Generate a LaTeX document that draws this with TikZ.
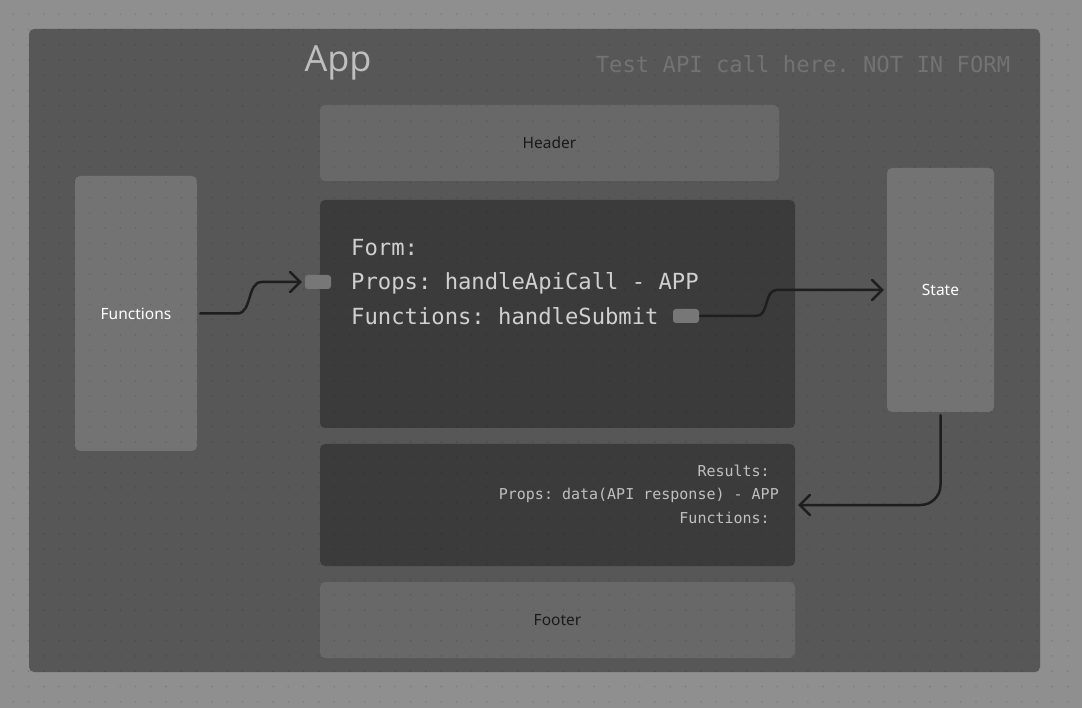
\documentclass[tikz,border=0pt]{standalone}
\usepackage{fontspec}
\setmainfont{Noto Sans}
\setsansfont{Open Sans}
\setmonofont{DejaVu Sans Mono}
\usetikzlibrary{arrows.meta}

\definecolor{canvasgray}{HTML}{8F8F8F}
\definecolor{framegray}{HTML}{575757}
\definecolor{panelgray}{HTML}{686868}
\definecolor{sidegray}{HTML}{737373}
\definecolor{darkpanel}{HTML}{3B3B3B}
\definecolor{portgray}{HTML}{777777}
\definecolor{arrowink}{HTML}{1E1E1E}
\definecolor{titlegray}{HTML}{BFBFBF}
\definecolor{notegray}{HTML}{737373}
\definecolor{codegray}{HTML}{D0D0D0}
\definecolor{resultgray}{HTML}{C0C0C0}
\definecolor{labeldark}{HTML}{1A1A1A}

\tikzset{
  panel/.style={fill=panelgray, rounded corners=5pt, inner sep=0pt, text=labeldark,
    font=\fontsize{15.5}{18}\selectfont},
  sidebox/.style={fill=sidegray, rounded corners=5pt, inner sep=0pt, text=white,
    font=\fontsize{15.5}{18}\selectfont},
  codebox/.style={fill=darkpanel, rounded corners=5pt, inner sep=0pt},
  port/.style={fill=portgray, rounded corners=3pt, inner sep=0pt,
    minimum width=26pt, minimum height=14pt},
  flow/.style={draw=arrowink, line width=2.5pt, line cap=round,
    -{Straight Barb[length=10pt,width=20pt,line cap=round]}},
}

\begin{document}
\begin{tikzpicture}[x=1pt,y=-1pt]
\useasboundingbox (0,0) rectangle (1082,708);
\fill[canvasgray] (0,0) rectangle (1082,708);

% app frame
\node[fill=framegray, rounded corners=5pt, minimum width=1011pt, minimum height=643pt, inner sep=0pt] (app) at (534.5,350.5) {};
\node[text=titlegray, font=\sffamily\fontsize{36}{40}\selectfont, inner sep=0pt] (apptitle) at (338,63) {App};
\node[text=notegray, font=\ttfamily\fontsize{22.2}{26}\selectfont, inner sep=0pt] (testnote) at (803,64) {Test API call here. NOT IN FORM};

% panels
\node[panel, minimum width=459pt, minimum height=76pt] (header) at (549.5,143) {Header};
\node[sidebox, minimum width=122pt, minimum height=275pt] (funcs) at (136,313.5) {Functions};
\node[codebox, minimum width=475pt, minimum height=228pt] (form) at (557.5,314) {};
\node[sidebox, minimum width=107pt, minimum height=244pt] (state) at (940.5,290) {State};
\node[codebox, minimum width=475pt, minimum height=122pt] (results) at (557.5,505) {};
\node[panel, minimum width=475pt, minimum height=76pt] (footer) at (557.5,620) {Footer};

% background dots
\foreach \i in {0,...,70}
  \foreach \j in {0,...,46}
    \fill[black, opacity=0.13] (13.3+15.28*\i, 14.2+15.28*\j) circle[radius=0.9pt];

% texts in the dark panels
\node[anchor=west, align=left, text=codegray, inner sep=0pt,
  font=\ttfamily\fontsize{22.2}{34.5}\selectfont] (formtext) at (351,282)
  {Form:\\Props: handleApiCall - APP\\Functions: handleSubmit};
\node[anchor=east, align=right, text=resultgray, inner sep=0pt,
  font=\ttfamily\fontsize{15}{23.5}\selectfont] (resulttext) at (779,494)
  {Results:\hphantom{x}\\Props: data(API response) - APP\\Functions:\hphantom{x}};

% ports
\node[port] (apiport) at (318,282) {};
\node[port] (submitport) at (686,316) {};

% connectors
\draw[flow] ([xshift=3pt]funcs.east) -- ++(37,0) .. controls +(15,0) and +(-15,0) .. ([xshift=-43pt]apiport.west) -- ([xshift=-3pt]apiport.west);
\draw[flow] ([xshift=1pt]submitport.east) -- ++(56,0) .. controls +(13,0) and +(-13,0) .. ([xshift=-110pt]state.west) -- ([xshift=-3pt]state.west);
\draw[flow, rounded corners=20pt] ([yshift=-3pt]state.south) |- ([xshift=3pt]results.east);
\end{tikzpicture}
\end{document}
